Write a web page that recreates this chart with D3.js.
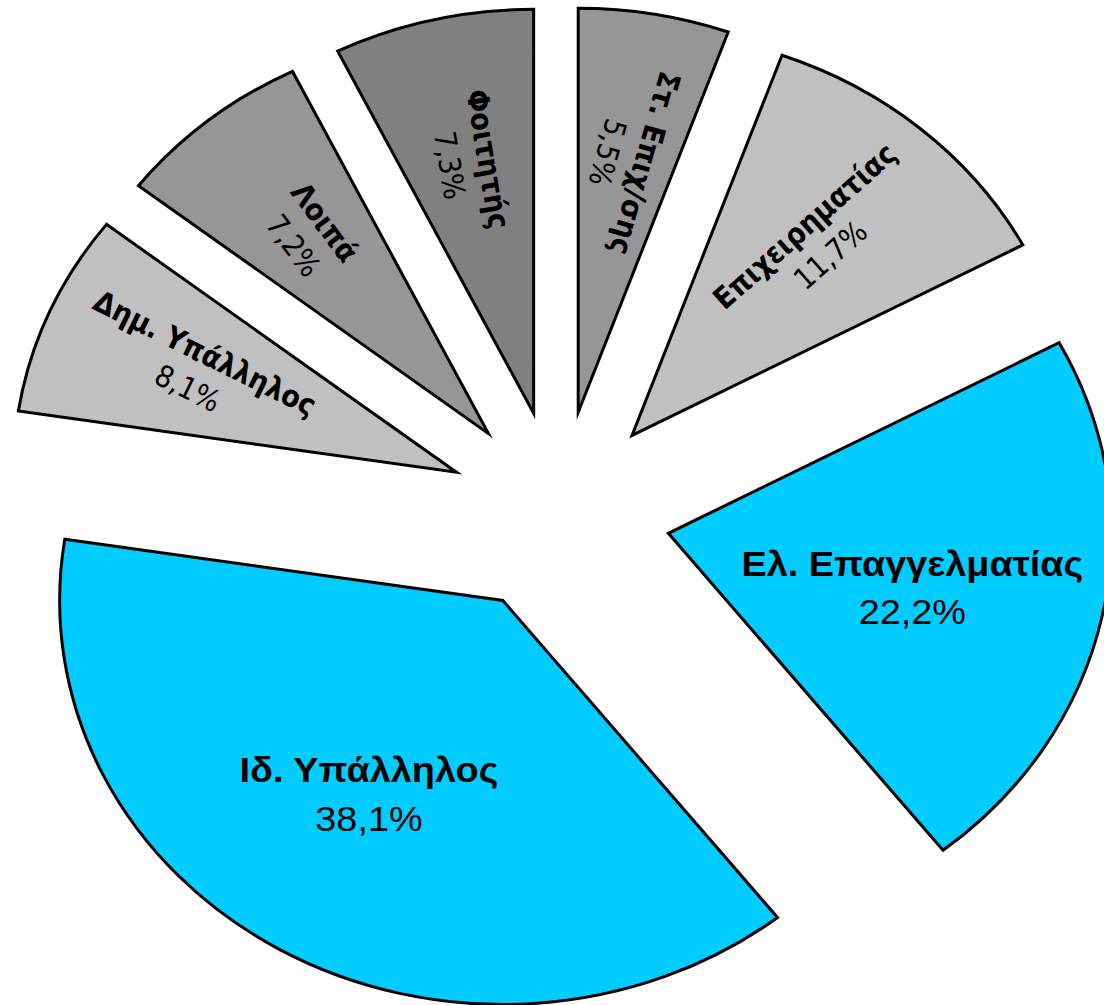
<!DOCTYPE html>
<html lang="el">
<head>
<meta charset="UTF-8">
<title>Επάγγελμα</title>
<script src="https://d3js.org/d3.v7.min.js"></script>
<style>
  body { margin: 0; background: #fff; }
  svg { display: block; }
</style>
</head>
<body>
<svg id="chart" width="1104" height="1005"></svg>
<script>
// slices, clockwise from 12 o'clock
const categories = ['Στ. Επιχ/σης', 'Επιχειρηματίας', 'Ελ. Επαγγελματίας', 'Ιδ. Υπάλληλος', 'Δημ. Υπάλληλος', 'Λοιπά', 'Φοιτητής'];
const shares = [5.5, 11.7, 22.2, 38.1, 8.1, 7.2, 7.3];
const highlighted = ['Ελ. Επαγγελματίας', 'Ιδ. Υπάλληλος'];

const fillColors = {
  'Στ. Επιχ/σης': '#969696',
  'Επιχειρηματίας': '#c0c0c0',
  'Ελ. Επαγγελματίας': '#00ccff',
  'Ιδ. Υπάλληλος': '#00ccff',
  'Δημ. Υπάλληλος': '#c0c0c0',
  'Λοιπά': '#969696',
  'Φοιτητής': '#808080'
};

const svg = d3.select('#chart');
const sx = 1.097;          // picture is stretched a little horizontally
const cx = 509.6, cy = 512.5;
const radius = 404;
const explode = 101.8;
const deg = Math.PI / 180;

const data = categories.map((c, i) => ({ name: c, value: shares[i] }));
const pie = d3.pie().sort(null).value(d => d.value);
const arc = d3.arc().innerRadius(0).outerRadius(radius);
const fmt = d3.formatLocale({ decimal: ',', thousands: '.', grouping: [3], currency: ['', '€'] }).format('.1f');
const mid = d => (d.startAngle + d.endAngle) / 2;
const apex = d => [cx + explode * Math.sin(mid(d)), cy - explode * Math.cos(mid(d))];

const g = svg.append('g').attr('transform', `scale(${sx},1)`);

const slices = g.selectAll('g.slice')
  .data(pie(data))
  .join('g')
  .attr('class', 'slice')
  .attr('transform', d => `translate(${apex(d)})`);

slices.append('path')
  .attr('d', arc)
  .attr('fill', d => fillColors[d.data.name])
  .attr('stroke', '#000')
  .attr('stroke-width', 3)
  .attr('stroke-miterlimit', 12)
  .attr('vector-effect', 'non-scaling-stroke');

// big horizontal labels for highlighted slices
const big = slices.filter(d => highlighted.includes(d.data.name))
  .append('g')
  .attr('transform', d => {
    const a = mid(d) + 2 * deg;
    return `translate(${229 * Math.sin(a)},${-229 * Math.cos(a)})`;
  })
  .attr('font-family', '"Liberation Sans", Arial, sans-serif')
  .attr('font-size', 34.5)
  .attr('text-anchor', 'middle')
  .attr('fill', '#000');

big.append('text')
  .attr('dy', -24)
  .attr('dominant-baseline', 'central')
  .attr('font-weight', 'bold')
  .text(d => d.data.name);

big.append('text')
  .attr('dy', 24.5)
  .attr('dominant-baseline', 'central')
  .text(d => fmt(d.data.value) + '%');

// radial labels for the rest, drawn unstretched
const labelR = 258;
const small = svg.append('g')
  .attr('font-family', '"DejaVu Sans Condensed", "DejaVu Sans", sans-serif')
  .attr('font-stretch', 'condensed')
  .attr('font-size', 30)
  .attr('text-anchor', 'middle')
  .attr('fill', '#000')
  .selectAll('g')
  .data(pie(data).filter(d => !highlighted.includes(d.data.name)))
  .join('g')
  .attr('transform', d => {
    const a = mid(d);
    const [ax, ay] = apex(d);
    const x = sx * (ax + labelR * Math.sin(a));
    const y = ay - labelR * Math.cos(a);
    let rot = Math.atan2(-Math.cos(a), sx * Math.sin(a)) / deg;
    if (!(a > 20 * deg && a < Math.PI)) rot += 180;
    return `translate(${x},${y}) rotate(${rot + 5})`;
  });

small.append('text')
  .attr('dy', -19)
  .attr('dominant-baseline', 'central')
  .attr('font-weight', 'bold')
  .text(d => d.data.name);

small.append('text')
  .attr('dy', 20)
  .attr('dominant-baseline', 'central')
  .text(d => fmt(d.data.value) + '%');
</script>
</body>
</html>
